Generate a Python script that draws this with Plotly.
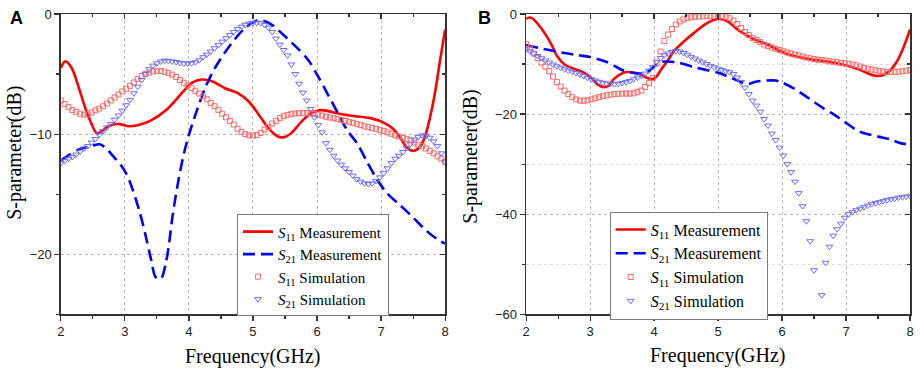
import plotly.graph_objects as go

# ---------------- data ----------------
# simulation sweep frequencies (GHz)
FREQ_SIM = [round(2 + 0.06 * i, 2) for i in range(101)]

# Panel A - simulation
A_S11_SIM = [
    -7.2, -7.5, -7.75, -8.0, -8.15, -8.3, -8.38, -8.35, -8.2, -8.02,
    -7.88, -7.68, -7.45, -7.2, -6.95, -6.7, -6.45, -6.22, -5.98, -5.7,
    -5.42, -5.18, -5.0, -4.88, -4.78, -4.73, -4.74, -4.8, -4.9, -5.05,
    -5.25, -5.5, -5.72, -5.95, -6.15, -6.4, -6.62, -6.85, -7.1, -7.4,
    -7.68, -7.98, -8.3, -8.6, -8.9, -9.2, -9.55, -9.82, -10.0, -10.1,
    -10.12, -10.08, -9.9, -9.62, -9.4, -9.12, -8.9, -8.65, -8.5, -8.4,
    -8.32, -8.28, -8.26, -8.25, -8.25, -8.26, -8.3, -8.38, -8.45, -8.55,
    -8.62, -8.68, -8.75, -8.82, -8.9, -8.98, -9.06, -9.15, -9.25, -9.35,
    -9.42, -9.5, -9.56, -9.65, -9.75, -9.85, -9.97, -10.1, -10.2, -10.32,
    -10.42, -10.52, -10.7, -10.88, -11.0, -11.2, -11.4, -11.6, -11.85, -12.05,
    -12.3,
]
A_S21_SIM = [
    -12.4, -12.25, -12.05, -11.9, -11.7, -11.45, -11.2, -11.0, -10.7, -10.4,
    -10.05, -9.75, -9.45, -9.15, -8.8, -8.45, -8.05, -7.6, -7.15, -6.6,
    -6.05, -5.5, -5.0, -4.6, -4.3, -4.1, -3.95, -3.88, -3.9, -3.95,
    -4.0, -4.07, -4.12, -4.12, -4.1, -4.02, -3.85, -3.6, -3.38, -3.12,
    -2.85, -2.6, -2.3, -2.02, -1.75, -1.5, -1.26, -1.06, -0.9, -0.8,
    -0.75, -0.73, -0.76, -0.9, -1.14, -1.5, -2.05, -2.55, -3.0, -3.45,
    -4.2, -5.0, -5.8, -6.55, -7.2, -7.9, -8.6, -9.25, -9.85, -10.75,
    -11.3, -11.8, -12.2, -12.55, -12.85, -13.15, -13.45, -13.75, -13.95, -14.1,
    -14.15, -14.1, -13.9, -13.6, -13.25, -12.85, -12.4, -12.05, -11.8, -11.5,
    -11.15, -10.8, -10.45, -10.25, -10.1, -10.15, -10.3, -10.6, -11.0, -11.6,
    -12.3,
]

# Panel A - measurement
A_S11_MEAS_F = [2.0, 2.07, 2.17, 2.27, 2.38, 2.48, 2.56, 2.63, 2.74, 2.89, 3.05, 3.2,
                3.41, 3.66, 3.92, 4.05, 4.2, 4.36, 4.57, 4.77, 4.93, 5.08, 5.24, 5.39,
                5.47, 5.6, 5.75, 5.91, 6.06, 6.37, 6.58, 6.83, 7.04, 7.19, 7.3, 7.4,
                7.5, 7.6, 7.68, 7.76, 7.84, 7.92, 8.0]
A_S11_MEAS = [-4.5, -3.94, -4.5, -5.95, -7.8, -9.15, -9.93, -9.8, -9.35, -9.15, -9.34, -9.26,
              -8.86, -7.93, -6.4, -5.72, -5.45, -5.6, -6.2, -6.6, -7.26, -8.3, -9.5, -10.2,
              -10.27, -9.9, -9.0, -8.25, -8.0, -8.33, -8.5, -8.67, -9.04, -9.58, -10.3, -11.1,
              -11.4, -11.1, -10.3, -8.7, -6.6, -3.9, -1.3]
A_S21_MEAS_F = [2.0, 2.27, 2.48, 2.61, 2.71, 2.81, 2.94, 3.05, 3.23, 3.33, 3.41, 3.48, 3.56,
                3.64, 3.69, 3.74, 3.82, 3.92, 4.0, 4.13, 4.26, 4.41, 4.57, 4.72, 4.88, 5.03,
                5.13, 5.29, 5.49, 5.65, 5.86, 6.01, 6.16, 6.32, 6.47, 6.63, 6.78, 6.94, 7.09,
                7.3, 7.51, 7.71, 7.87, 8.0]
A_S21_MEAS = [-12.2, -11.3, -11.0, -10.85, -11.2, -11.8, -12.6, -13.6, -16.46, -18.59, -20.45,
              -21.9, -22.05, -20.72, -19.12, -17.0, -14.33, -11.66, -10.07, -7.94, -6.07, -4.47,
              -3.14, -2.08, -1.15, -0.61, -0.53, -0.88, -1.81, -2.61, -3.81, -5.14, -6.6, -8.2,
              -9.67, -10.8, -12.3, -13.8, -14.9, -15.93, -16.99, -18.06, -18.72, -19.12]

# Panel B - simulation
B_S11_SIM = [
    -6.0, -6.9, -7.9, -8.8, -9.7, -10.5, -11.4, -12.5, -13.6, -14.5,
    -15.3, -16.0, -16.6, -17.05, -17.3, -17.35, -17.25, -17.05, -16.85, -16.6,
    -16.4, -16.25, -16.1, -16.0, -15.95, -15.9, -15.9, -15.9, -15.85, -15.6,
    -15.3, -14.6, -13.8, -12.8, -9.9, -7.5, -5.4, -4.1, -3.0, -2.1,
    -1.5, -1.1, -0.85, -0.65, -0.55, -0.5, -0.45, -0.42, -0.4, -0.4,
    -0.4, -0.42, -0.55, -0.85, -1.3, -2.0, -2.8, -3.6, -4.2, -4.8,
    -5.2, -5.6, -6.1, -6.4, -6.7, -6.95, -7.2, -7.45, -7.7, -7.9,
    -8.1, -8.3, -8.5, -8.7, -8.85, -9.0, -9.1, -9.2, -9.3, -9.45,
    -9.55, -9.65, -9.75, -9.85, -9.95, -10.1, -10.25, -10.5, -10.75, -10.95,
    -11.1, -11.25, -11.4, -11.5, -11.55, -11.6, -11.6, -11.55, -11.45, -11.35,
    -11.2,
]
B_S21_SIM = [
    -7.05, -7.45, -7.9, -8.4, -8.85, -9.3, -9.7, -10.1, -10.45, -10.75,
    -11.05, -11.3, -11.55, -11.8, -12.1, -12.4, -12.75, -13.05, -13.3, -13.55,
    -13.75, -13.9, -14.0, -14.0, -13.95, -13.8, -13.6, -13.4, -13.05, -12.7,
    -12.35, -11.9, -11.3, -10.6, -9.5, -8.8, -8.25, -7.9, -7.6, -7.4,
    -7.5, -7.8, -8.15, -8.55, -8.9, -9.3, -9.65, -10.0, -10.35, -10.65,
    -10.9, -11.2, -11.45, -11.65, -12.0, -12.7, -13.6, -14.7, -16.0, -17.3,
    -18.3, -19.5, -21.0, -22.3, -23.9, -25.2, -26.7, -28.3, -30.0, -31.6,
    -33.5, -35.8, -38.4, -41.4, -45.4, -51.2, None, -56.2, -49.7, -46.5,
    -44.3, -43.0, -41.9, -40.7, -40.0, -39.6, -39.2, -38.9, -38.6, -38.3,
    -38.0, -37.8, -37.6, -37.4, -37.2, -37.0, -36.9, -36.7, -36.6, -36.5,
    -36.4,
]

# Panel B - measurement
B_S11_MEAS_F = [2.0, 2.05, 2.1, 2.23, 2.39, 2.49, 2.6, 2.75, 2.9, 3.01, 3.11, 3.21, 3.29, 3.37,
                3.47, 3.57, 3.68, 3.78, 3.88, 3.97, 4.03, 4.11, 4.22, 4.32, 4.48, 4.63, 4.79,
                4.94, 5.02, 5.15, 5.3, 5.46, 5.61, 5.77, 5.92, 6.08, 6.23, 6.44, 6.7, 6.95,
                7.21, 7.36, 7.47, 7.57, 7.68, 7.78, 7.89, 8.0]
B_S11_MEAS = [-1.0, -0.7, -0.9, -2.76, -5.96, -8.5, -10.1, -10.96, -11.7, -12.7, -14.0, -14.6,
              -14.3, -13.0, -12.05, -11.6, -11.7, -12.05, -12.7, -13.05, -12.6, -11.1, -9.17,
              -7.24, -5.32, -3.72, -2.11, -1.15, -0.96, -1.47, -3.07, -4.36, -5.32, -6.1, -7.1,
              -8.0, -8.5, -9.03, -9.49, -10.13, -11.09, -12.0, -12.37, -12.24, -11.4, -9.8,
              -6.92, -3.1]
B_S21_MEAS_F = [2.0, 2.2, 2.4, 2.6, 2.8, 3.0, 3.26, 3.4, 3.52, 3.65, 3.8, 3.9, 4.0, 4.1, 4.19,
                4.37, 4.68, 4.99, 5.25, 5.46, 5.6, 5.9, 6.0, 6.2, 6.4, 6.64, 6.8, 6.95, 7.21,
                7.4, 7.54, 7.7, 7.85, 8.0]
B_S21_MEAS = [-6.2, -6.8, -7.3, -7.8, -8.2, -8.6, -9.6, -10.5, -11.3, -11.7, -11.9, -11.5,
              -10.5, -9.6, -9.5, -9.7, -10.8, -11.7, -13.0, -14.0, -13.5, -13.3, -13.7, -15.0,
              -16.7, -18.8, -20.0, -21.3, -23.5, -24.2, -24.6, -25.1, -25.8, -26.1]

LEGEND_NAMES = ["<i>S</i><sub>11</sub> Measurement", "<i>S</i><sub>21</sub> Measurement",
                "<i>S</i><sub>11</sub> Simulation", "<i>S</i><sub>21</sub> Simulation"]

# ---------------- styles ----------------
RED = "#ff0000"
BLUE = "#0000ff"
RED_SIM = "#ff6a6a"
BLUE_SIM = "#6b6bff"
SERIF = "Liberation Serif, Times New Roman, serif"
SANS = "Liberation Sans, Arial, sans-serif"

W, H = 920, 377
def px_x(p):          # page pixel -> paper fraction
    return p / W
def px_y(p):
    return (H - p) / H

fig = go.Figure()

def add_panel(xa, ya, legend, s11m_f, s11m, s21m_f, s21m):
    fig.add_trace(go.Scatter(x=s11m_f, y=s11m, mode="lines", name=LEGEND_NAMES[0],
                             line=dict(color=RED, width=2.6, shape="spline", smoothing=0.9),
                             xaxis=xa, yaxis=ya, legend=legend))
    fig.add_trace(go.Scatter(x=s21m_f, y=s21m, mode="lines", name=LEGEND_NAMES[1],
                             line=dict(color=BLUE, width=2.6, dash="12px,6px", shape="spline",
                                       smoothing=0.9),
                             xaxis=xa, yaxis=ya, legend=legend))

def add_sim(xa, ya, legend, s11, s21):
    fig.add_trace(go.Scatter(x=FREQ_SIM, y=s11, mode="markers", name=LEGEND_NAMES[2],
                             marker=dict(symbol="square-open", size=5, color=RED_SIM,
                                         line=dict(width=1, color=RED_SIM)),
                             xaxis=xa, yaxis=ya, legend=legend))
    fig.add_trace(go.Scatter(x=FREQ_SIM, y=s21, mode="markers", name=LEGEND_NAMES[3],
                             marker=dict(symbol="triangle-down-open", size=6, color=BLUE_SIM,
                                         line=dict(width=1, color=BLUE_SIM)),
                             xaxis=xa, yaxis=ya, legend=legend))

add_panel("x", "y", "legend", A_S11_MEAS_F, A_S11_MEAS, A_S21_MEAS_F, A_S21_MEAS)
add_sim("x", "y", "legend", A_S11_SIM, A_S21_SIM)
add_panel("x2", "y2", "legend2", B_S11_MEAS_F, B_S11_MEAS, B_S21_MEAS_F, B_S21_MEAS)
add_sim("x2", "y2", "legend2", B_S11_SIM, B_S21_SIM)

# dummy traces for mirrored (inward) tick axes
fig.add_trace(go.Scatter(x=[None], y=[None], xaxis="x3", yaxis="y3", showlegend=False,
                         hoverinfo="skip"))
fig.add_trace(go.Scatter(x=[None], y=[None], xaxis="x4", yaxis="y4", showlegend=False,
                         hoverinfo="skip"))

GRID = "#b8b8b8"
tickfont = dict(family=SANS, size=13, color="#222")

def xaxis_cfg(domain, anchor):
    return dict(domain=domain, anchor=anchor, range=[2, 8], tick0=2, dtick=1, ticks="outside",
                ticklen=5, tickwidth=1.2, tickcolor="#333", showline=True, linecolor="#333",
                linewidth=1.5, mirror=True, showgrid=True, gridcolor=GRID, griddash="dot",
                gridwidth=1, zeroline=False, tickfont=tickfont, ticklabeloverflow="allow",
                minor=dict(dtick=0.5, ticks="outside", ticklen=3, tickcolor="#333", showgrid=False))

def yaxis_cfg(domain, anchor, rng, dtick, mdtick, minor_grid):
    m = dict(dtick=mdtick, ticks="outside", ticklen=3, tickcolor="#333", showgrid=minor_grid)
    if minor_grid:
        m.update(gridcolor="#dcdcdc", griddash="dot", gridwidth=1)
    return dict(domain=domain, anchor=anchor, range=rng, tick0=0, dtick=dtick, ticks="outside",
                ticklen=5, tickwidth=1.2, tickcolor="#333", showline=True, linecolor="#333",
                linewidth=1.5, mirror=True, showgrid=True, gridcolor=GRID, griddash="dot",
                gridwidth=1, zeroline=False, tickfont=tickfont, ticklabeloverflow="allow",
                minor=m)

def x_over(over, anchor):
    return dict(overlaying=over, anchor=anchor, side="top", range=[2, 8], tick0=2, dtick=1,
                ticks="inside", ticklen=5, tickwidth=1.2, tickcolor="#333", showticklabels=False,
                showgrid=False, zeroline=False, showline=False,
                minor=dict(dtick=0.5, ticks="inside", ticklen=3, tickcolor="#333"))

def y_over(over, anchor, rng, dtick, mdtick):
    return dict(overlaying=over, anchor=anchor, side="right", range=rng, tick0=0, dtick=dtick,
                ticks="inside", ticklen=5, tickwidth=1.2, tickcolor="#333", showticklabels=False,
                showgrid=False, zeroline=False, showline=False,
                minor=dict(dtick=mdtick, ticks="inside", ticklen=3, tickcolor="#333"))

dom_xa = [px_x(57.3), px_x(445.0)]
dom_xb = [px_x(526.7), px_x(914.0)]
dom_y = [px_y(320.0), px_y(7.3)]

legend_common = dict(bgcolor="white", bordercolor="#7a7a7a", borderwidth=1,
                     xanchor="left", yanchor="top", tracegroupgap=0, itemwidth=30)

fig.update_layout(
    width=W, height=H,
    margin=dict(l=0, r=0, t=0, b=0),
    paper_bgcolor="white", plot_bgcolor="white",
    showlegend=True,
    xaxis=xaxis_cfg(dom_xa, "y"),
    yaxis=yaxis_cfg(dom_y, "x", [-25, 0], 10, 5, False),
    xaxis2=xaxis_cfg(dom_xb, "y2"),
    yaxis2=yaxis_cfg(dom_y, "x2", [-60, 0], 20, 10, True),
    xaxis3=x_over("x", "y"),
    yaxis3=y_over("y", "x", [-25, 0], 10, 5),
    xaxis4=x_over("x2", "y2"),
    yaxis4=y_over("y2", "x2", [-60, 0], 20, 10),
    legend=dict(x=px_x(235), y=px_y(216), font=dict(family=SERIF, size=15, color="black"),
                **legend_common),
    legend2=dict(x=px_x(611), y=px_y(213), font=dict(family=SERIF, size=16, color="black"),
                 **legend_common),
)

annotations = [
    dict(text="<b>A</b>", x=px_x(13), y=px_y(11), font=dict(family=SANS, size=18, color="black")),
    dict(text="<b>B</b>", x=px_x(485), y=px_y(11), font=dict(family=SANS, size=18, color="black")),
    dict(text="Frequency(GHz)", x=px_x(251.5), y=px_y(364),
         font=dict(family=SERIF, size=20, color="black")),
    dict(text="Frequency(GHz)", x=px_x(720.5), y=px_y(363),
         font=dict(family=SERIF, size=20, color="black")),
    dict(text="S-parameter(dB)", x=px_x(11), y=px_y(152), textangle=-90,
         font=dict(family=SERIF, size=20, color="black")),
    dict(text="S-parameter(dB)", x=px_x(471), y=px_y(156), textangle=-90,
         font=dict(family=SERIF, size=20, color="black")),
]
for a in annotations:
    a.update(xref="paper", yref="paper", showarrow=False, xanchor="center", yanchor="middle")
fig.update_layout(annotations=annotations)

# remove the browser's default body margin so the figure fills the window exactly
fig.write_html("out.html",
               config={"displayModeBar": False, "staticPlot": True},
               post_script="document.body.style.margin='0';document.body.style.overflow='hidden';")
